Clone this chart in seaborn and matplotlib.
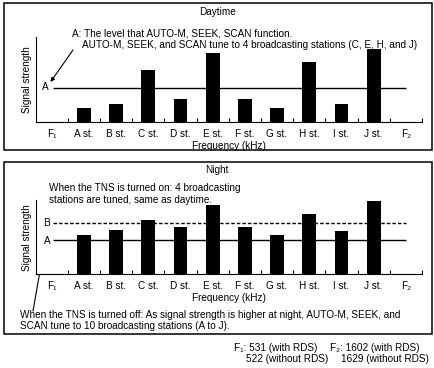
import numpy as np
import pandas as pd
import matplotlib
matplotlib.use('Agg')
import matplotlib.pyplot as plt
from matplotlib.patches import Rectangle
import seaborn as sns

W, H = 434, 368

# category order along frequency axis (F1 and F2 are band edges, no bar)
positions = ['F₁', 'A st.', 'B st.', 'C st.', 'D st.', 'E st.',
             'F st.', 'G st.', 'H st.', 'I st.', 'J st.', 'F₂']
stations = positions[1:-1]

# signal strength (arbitrary units)
day_strength = [14.5, 18.5, 52, 23.2, 69.5, 23, 14.2, 60.2, 18.5, 73]
night_strength = [39.3, 43.7, 54.3, 47.3, 68.7, 46.7, 38.7, 60.3, 43, 73.3]
level_a = 34.5
level_b = 51.3

sns.set_theme(style='white')
plt.rcParams['font.family'] = ['Liberation Sans', 'DejaVu Sans']
plt.rcParams['font.size'] = 7.2

fig = plt.figure(figsize=(W / 100, H / 100), dpi=100)
fig.patch.set_facecolor('white')


def px(x, y):
    return x / W, 1 - y / H


def panel(top_px, base_px, values, ymax):
    left = 35.5
    right = 422
    ax = fig.add_axes([left / W, (H - base_px) / H,
                       (right - left) / W, (base_px - top_px) / H])
    df = pd.DataFrame({'station': stations, 'strength': values})
    sns.barplot(data=df, x='station', y='strength', order=positions,
                color='black', saturation=1, width=0.43, errorbar=None,
                edgecolor='none', ax=ax)
    for b in ax.patches:
        b.set_clip_on(False)
    ax.set_xlim(-0.5, 11.5)
    ax.set_ylim(0, ymax)
    ax.set_facecolor('white')
    sns.despine(ax=ax)
    for s in ['left', 'bottom']:
        ax.spines[s].set_color('black')
        ax.spines[s].set_linewidth(0.8)
    ax.set_yticks([])
    ax.set_xticks(np.arange(12), positions)
    ax.set_xticks(np.arange(0.5, 12, 1), minor=True)
    ax.tick_params(axis='x', which='major', length=0, pad=5,
                   labelsize=7.2, colors='black')
    ax.tick_params(axis='x', which='minor', length=3, width=0.8,
                   direction='in', bottom=True, color='black')
    ax.set_xlabel('Frequency (kHz)', fontsize=7.2, labelpad=1.5,
                  color='black')
    ax.set_ylabel('Signal strength', fontsize=7.2, color='black')
    ax.yaxis.set_label_coords(-0.008, 0.5)
    return ax


# --- Daytime ---
ax1 = panel(37, 122, day_strength, 85)
ax1.hlines(level_a, 0.05, 11.0, color='black', lw=1.0)

# --- Night ---
ax2 = panel(200, 274.3, night_strength, 74)
ax2.hlines(level_a, 0.05, 11.0, color='black', lw=1.0)
ax2.hlines(level_b, 0.05, 11.0, color='black', lw=1.0,
           linestyles=(0, (2.5, 1.5)))

# frames
for y0, y1 in [(3, 150), (162, 333.5)]:
    fig.add_artist(Rectangle(px(4, y1), (431.5 - 4) / W, (y1 - y0) / H,
                             transform=fig.transFigure, fill=False,
                             ec='black', lw=1.1))

txt = dict(fontsize=7.2, color='black')
fig.text(*px(217, 12), 'Daytime', ha='center', va='center', **txt)
fig.text(*px(217, 170), 'Night', ha='center', va='center', **txt)

fig.text(*px(72, 33), 'A: The level that AUTO-M, SEEK, SCAN function.',
         ha='left', va='center', **txt)
fig.text(*px(82, 45), 'AUTO-M, SEEK, and SCAN tune to 4 broadcasting '
         'stations (C, E, H, and J)', ha='left', va='center', **txt)
fig.text(*px(45, 87.5), 'A', ha='center', va='center', **txt)

fig.text(*px(49, 188), 'When the TNS is turned on: 4 broadcasting',
         ha='left', va='center', **txt)
fig.text(*px(49, 200), 'stations are tuned, same as daytime.',
         ha='left', va='center', **txt)
fig.text(*px(47, 223), 'B', ha='center', va='center', **txt)
fig.text(*px(47, 240.5), 'A', ha='center', va='center', **txt)

fig.text(*px(20, 315), 'When the TNS is turned off: As signal strength is '
         'higher at night, AUTO-M, SEEK, and', ha='left', va='center', **txt)
fig.text(*px(20, 326), 'SCAN tune to 10 broadcasting stations (A to J).',
         ha='left', va='center', **txt)

fig.text(*px(234, 348), 'F₁: 531 (with RDS)', ha='left', va='center', **txt)
fig.text(*px(246, 359), '522 (without RDS)', ha='left', va='center', **txt)
fig.text(*px(330, 348), 'F₂: 1602 (with RDS)', ha='left', va='center', **txt)
fig.text(*px(341, 359), '1629 (without RDS)', ha='left', va='center', **txt)

# arrows
arrow = dict(arrowstyle='-|>', lw=0.8, color='black', mutation_scale=6,
             shrinkA=0, shrinkB=0)
for tail, head in [((73, 50), (50.5, 82)),
                   ((55, 201), (48.5, 216)),
                   ((33, 311), (43.5, 251))]:
    ax1.annotate('', xy=(head[0], H - head[1]),
                 xytext=(tail[0], H - tail[1]),
                 xycoords='figure pixels', textcoords='figure pixels',
                 arrowprops=arrow, annotation_clip=False)

fig.savefig('out.png', dpi=100, facecolor='white')
